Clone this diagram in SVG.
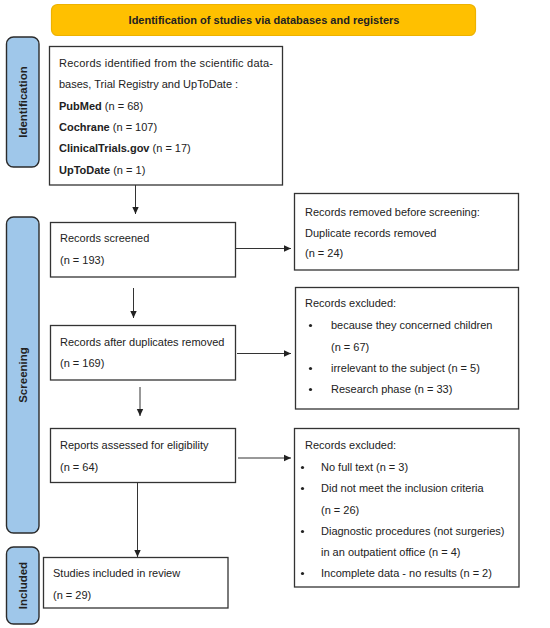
<svg xmlns="http://www.w3.org/2000/svg" width="550" height="628" viewBox="0 0 550 628">
<defs>
<marker id="ah" markerWidth="8" markerHeight="8" refX="7" refY="4" orient="auto" markerUnits="userSpaceOnUse">
<path d="M0,0.8 L7,4 L0,7.2 Z" fill="#222"/>
</marker>
<style>
.t{font-family:"Liberation Sans",Arial,sans-serif;font-size:11px;fill:#222}
.b{font-weight:bold}
.box{fill:#fff;stroke:#333;stroke-width:1.3}
.side{fill:#9FC7EA;stroke:#2b2b2b;stroke-width:1.4}
.sl{font-family:"Liberation Sans",Arial,sans-serif;font-size:11.5px;font-weight:bold;fill:#222;text-anchor:middle}
.c{stroke:#333;stroke-width:1;fill:none;marker-end:url(#ah)}
</style>
</defs>
<rect width="550" height="628" fill="#fff"/>
<g id="header">
<rect x="51.5" y="4.5" width="424" height="31" rx="6" fill="#FFC000" stroke="#EDB200" stroke-width="1.2"/>
<text class="t b" x="264" y="24" text-anchor="middle">Identification of studies via databases and registers</text>
</g>
<g id="side-identification">
<rect class="side" x="6.5" y="37" width="32.5" height="130" rx="7"/>
<text class="sl" transform="translate(26.5,102) rotate(-90)">Identification</text>
</g>
<g id="side-screening">
<rect class="side" x="6.5" y="217" width="32.5" height="316" rx="7"/>
<text class="sl" transform="translate(26.5,375) rotate(-90)">Screening</text>
</g>
<g id="side-included">
<rect class="side" x="6.5" y="547" width="32.5" height="77" rx="7"/>
<text class="sl" transform="translate(26.5,585.5) rotate(-90)">Included</text>
</g>
<g id="records-identified">
<rect class="box" x="49.5" y="46.5" width="233" height="138.5"/>
<text class="t" x="59" y="67" textLength="214" lengthAdjust="spacing">Records identified from the scientific data-</text>
<text class="t" x="59" y="88">bases, Trial Registry and UpToDate :</text>
<text class="t" x="59" y="110"><tspan class="b">PubMed</tspan> (n = 68)</text>
<text class="t" x="59" y="131"><tspan class="b">Cochrane</tspan> (n = 107)</text>
<text class="t" x="59" y="152"><tspan class="b">ClinicalTrials.gov</tspan> (n = 17)</text>
<text class="t" x="59" y="174"><tspan class="b">UpToDate</tspan> (n = 1)</text>
</g>
<g id="records-screened">
<rect class="box" x="50.5" y="222.5" width="185" height="54.5"/>
<text class="t" x="60" y="242">Records screened</text>
<text class="t" x="60" y="264">(n = 193)</text>
</g>
<g id="records-removed">
<rect class="box" x="294.5" y="193.5" width="224" height="76.5"/>
<text class="t" x="305" y="216">Records removed before screening:</text>
<text class="t" x="305" y="237">Duplicate records removed</text>
<text class="t" x="305" y="257">(n = 24)</text>
</g>
<g id="records-after-duplicates">
<rect class="box" x="50.5" y="325.5" width="185" height="54.5"/>
<text class="t" x="60" y="346">Records after duplicates removed</text>
<text class="t" x="60" y="367">(n = 169)</text>
</g>
<g id="records-excluded-1">
<rect class="box" x="295.5" y="287.5" width="223" height="121.5"/>
<text class="t" x="305" y="307">Records excluded:</text>
<circle cx="310.5" cy="325.5" r="1.6" fill="#222"/>
<text class="t" x="331" y="329">because they concerned children</text>
<text class="t" x="331" y="351">(n = 67)</text>
<circle cx="310.5" cy="368.5" r="1.6" fill="#222"/>
<text class="t" x="331" y="372">irrelevant to the subject (n = 5)</text>
<circle cx="310.5" cy="389.5" r="1.6" fill="#222"/>
<text class="t" x="331" y="393">Research phase (n = 33)</text>
</g>
<g id="reports-assessed">
<rect class="box" x="50.5" y="428.5" width="185" height="54"/>
<text class="t" x="60" y="449">Reports assessed for eligibility</text>
<text class="t" x="60" y="471">(n = 64)</text>
</g>
<g id="records-excluded-2">
<rect class="box" x="294.5" y="428.5" width="224.5" height="158.5"/>
<text class="t" x="305" y="449">Records excluded:</text>
<circle cx="302.5" cy="467.5" r="1.6" fill="#222"/>
<text class="t" x="321" y="471">No full text (n = 3)</text>
<circle cx="302.5" cy="488.5" r="1.6" fill="#222"/>
<text class="t" x="321" y="492">Did not meet the inclusion criteria</text>
<text class="t" x="321" y="514">(n = 26)</text>
<circle cx="302.5" cy="531.5" r="1.6" fill="#222"/>
<text class="t" x="321" y="535">Diagnostic procedures (not surgeries)</text>
<text class="t" x="321" y="556">in an outpatient office (n = 4)</text>
<circle cx="302.5" cy="573.5" r="1.6" fill="#222"/>
<text class="t" x="321" y="577">Incomplete data - no results (n = 2)</text>
</g>
<g id="studies-included">
<rect class="box" x="43.5" y="557.5" width="184.5" height="50.5"/>
<text class="t" x="53" y="577">Studies included in review</text>
<text class="t" x="53" y="599">(n = 29)</text>
</g>
<g id="connectors">
<line class="c" x1="135.5" y1="185" x2="135.5" y2="214"/>
<line class="c" x1="236" y1="248.5" x2="291" y2="248.5"/>
<line class="c" x1="133.5" y1="288" x2="133.5" y2="318"/>
<line class="c" x1="237" y1="353.5" x2="291" y2="353.5"/>
<line class="c" x1="140" y1="387" x2="140" y2="416"/>
<line class="c" x1="238" y1="458" x2="291" y2="458"/>
<line class="c" x1="137.5" y1="482.5" x2="137.5" y2="557"/>
</g>
</svg>
